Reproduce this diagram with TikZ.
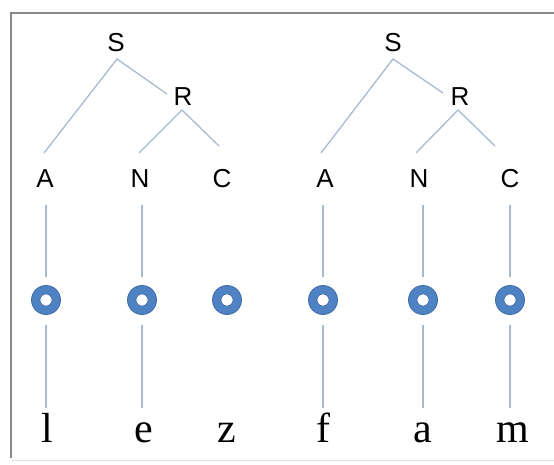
\documentclass[tikz,border=0pt]{standalone}
\usepackage{fontspec}
\setmainfont{Liberation Serif}
\setsansfont{Liberation Sans}
\begin{document}
\begin{tikzpicture}[x=1pt,y=-1pt,
  lab/.style={font=\sffamily\fontsize{26}{26}\selectfont, inner sep=0pt, anchor=center},
  seg/.style={font=\rmfamily\fontsize{42}{42}\selectfont, inner sep=0pt, anchor=base},
  ring/.style={circle, draw=ringedge, line width=0.8pt, fill=ringfill, minimum size=29pt, inner sep=0pt},
  hole/.style={circle, draw=ringedge, line width=0.6pt, fill=white, minimum size=12pt, inner sep=0pt},
  branch/.style={draw=linecol, line width=1.3pt}
]
\definecolor{linecol}{HTML}{A9BACE}
\definecolor{ringfill}{HTML}{4F82C3}
\definecolor{ringedge}{HTML}{3C6BA8}
\definecolor{framecol}{HTML}{8A8A8A}
\useasboundingbox (0,0) rectangle (554,465);
% frame
\draw[framecol, line width=2.5pt] (11,458) -- (11,13) -- (554,13);
\draw[gray!25, line width=1pt] (11,460) -- (554,460);

% left tree
\node[lab] (S1) at (116,43) {S};
\node[lab] (R1) at (183,97) {R};
\node[lab] (A1) at (45,179) {A};
\node[lab] (N1) at (140,179) {N};
\node[lab] (C1) at (222,179) {C};
\coordinate (s1b) at (117,59);
\coordinate (a1t) at (44,153);
\coordinate (r1l) at (167,94);
\coordinate (r1b) at (182,110);
\coordinate (n1t) at (139,153);
\coordinate (c1t) at (219,146);
\draw[branch] (a1t) -- (s1b) -- (r1l);
\draw[branch] (n1t) -- (r1b) -- (c1t);

% right tree
\node[lab] (S2) at (393,43) {S};
\node[lab] (R2) at (460,97) {R};
\node[lab] (A2) at (325,179) {A};
\node[lab] (N2) at (419,179) {N};
\node[lab] (C2) at (510,179) {C};
\coordinate (s2b) at (393,59);
\coordinate (a2t) at (321,153);
\coordinate (r2l) at (443,93);
\coordinate (r2b) at (458,110);
\coordinate (n2t) at (416,153);
\coordinate (c2t) at (495,146);
\draw[branch] (a2t) -- (s2b) -- (r2l);
\draw[branch] (n2t) -- (r2b) -- (c2t);

% rings
\foreach \n/\x in {o1/46, o2/142, o3/227, o4/323, o5/423, o6/510} {
  \node[ring] (\n) at (\x,300) {};
  \node[hole] at (\x,300) {};
  \coordinate (\n t) at (\x,205);
  \coordinate (\n a) at (\x,277);
  \coordinate (\n b) at (\x,325);
  \coordinate (\n c) at (\x,408);
}

% segments
\node[seg] (l) at (47,442) {l};
\node[seg] (e) at (144,442) {e};
\node[seg] (z) at (227,442) {z};
\node[seg] (f) at (323,442) {f};
\node[seg] (a) at (423,442) {a};
\node[seg] (m) at (513,442) {m};

% vertical connectors
\foreach \n in {o1,o2,o4,o5,o6} {
  \draw[branch] (\n t) -- (\n a);
  \draw[branch] (\n b) -- (\n c);
}
\end{tikzpicture}
\end{document}
